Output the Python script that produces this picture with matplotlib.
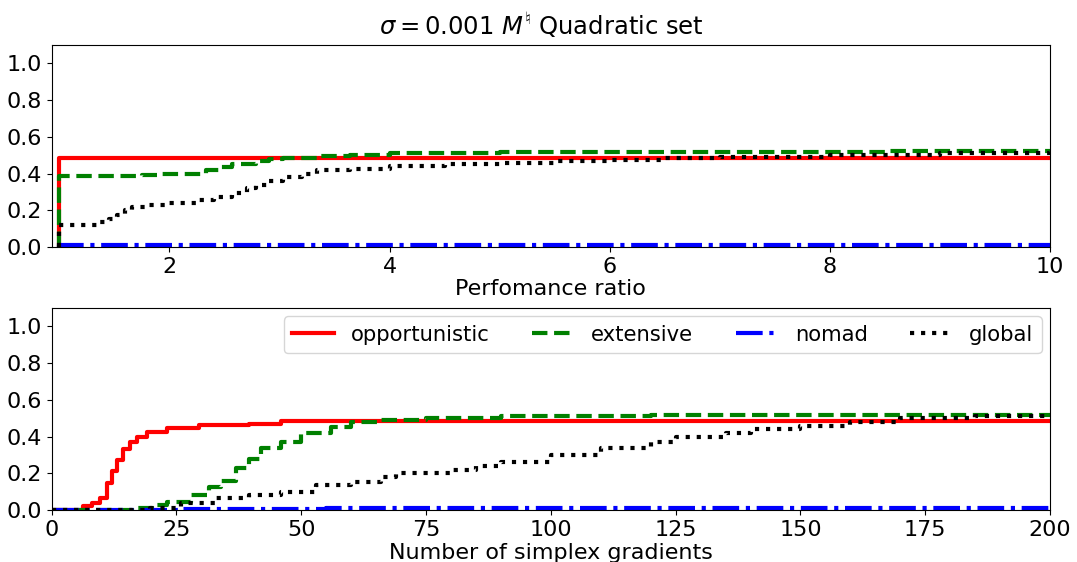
import matplotlib
matplotlib.use("Agg")
import matplotlib.pyplot as plt

# ---- Top panel: performance profile (x = performance ratio) ----
ratio_opp = [1.0, 10.0]
prof_opp = [0.485, 0.485]
ratio_ext = [1.0, 1.75, 1.9, 2.12, 2.33, 2.45, 2.57, 2.79, 2.9, 3.03, 3.34, 3.64, 4.0, 4.7, 5.0, 8.5, 10.0]
prof_ext = [0.388, 0.39, 0.395, 0.40, 0.42, 0.435, 0.45, 0.47, 0.48, 0.485, 0.497, 0.50, 0.51, 0.512, 0.515, 0.52, 0.52]
ratio_nom = [1.0, 10.0]
prof_nom = [0.012, 0.012]
ratio_glo = [1.0, 1.36, 1.45, 1.52, 1.6, 1.66, 1.8, 1.97, 2.27, 2.4, 2.57, 2.7, 2.79, 2.9, 3.03, 3.2, 3.34, 3.64, 4.0, 4.5, 5.0, 5.5, 6.0, 6.5, 7.0, 8.0, 9.0, 10.0]
prof_glo = [0.12, 0.137, 0.15, 0.175, 0.2, 0.22, 0.23, 0.24, 0.257, 0.27, 0.295, 0.32, 0.34, 0.36, 0.38, 0.40, 0.42, 0.425, 0.44, 0.45, 0.46, 0.47, 0.475, 0.485, 0.49, 0.50, 0.51, 0.515]

# ---- Bottom panel: data profile (x = number of simplex gradients) ----
grad_opp = [0, 6.2, 8, 9.6, 11, 12, 13, 14.3, 15.6, 17, 19, 23, 29.6, 39.6, 46, 200]
data_opp = [0.0, 0.02, 0.04, 0.065, 0.147, 0.21, 0.27, 0.33, 0.37, 0.40, 0.425, 0.445, 0.465, 0.47, 0.485, 0.485]
grad_ext = [0, 16, 20, 23, 28, 31.6, 34, 37, 39.6, 42, 46, 50, 56, 60, 66, 75, 90, 120, 200]
data_ext = [0.0, 0.01, 0.03, 0.045, 0.08, 0.125, 0.16, 0.23, 0.28, 0.34, 0.37, 0.42, 0.45, 0.48, 0.49, 0.50, 0.51, 0.515, 0.52]
grad_nom = [0, 26, 55, 200]
data_nom = [0.0, 0.005, 0.012, 0.012]
grad_glo = [0, 19.6, 26, 33, 39.6, 46, 53, 60, 66, 69, 80, 85, 90, 100, 110, 120, 125, 135, 140, 150, 160, 170, 185, 200]
data_glo = [0.0, 0.01, 0.04, 0.065, 0.08, 0.10, 0.135, 0.15, 0.18, 0.20, 0.22, 0.24, 0.26, 0.30, 0.34, 0.37, 0.40, 0.42, 0.44, 0.46, 0.48, 0.50, 0.51, 0.515]

labels = ["opportunistic", "extensive", "nomad", "global"]
colors = ["red", "green", "blue", "black"]
styles = ["-", "--", "-.", ":"]

plt.rcParams["font.size"] = 16

fig = plt.figure(figsize=(10.77, 5.62), dpi=100)
ax1 = fig.add_axes([0.048, 0.5605, 0.927, 0.3595])
ax2 = fig.add_axes([0.048, 0.0925, 0.927, 0.3595])

top = [(ratio_opp, prof_opp), (ratio_ext, prof_ext), (ratio_nom, prof_nom), (ratio_glo, prof_glo)]
for (x, y), c, s, l in zip(top, colors, styles, labels):
    ax1.plot([x[0]] + list(x), [0.0] + list(y), drawstyle="steps-post", color=c, ls=s, lw=3, label=l)
ax1.set_xlim(0.93, 10)
ax1.set_ylim(0, 1.1)
ax1.set_yticks([0, 0.2, 0.4, 0.6, 0.8, 1.0])
ax1.set_xticks([2, 4, 6, 8, 10])
ax1.set_xlabel("Perfomance ratio", labelpad=2)
fig.suptitle(r"$\sigma = 0.001\ M^\natural$ Quadratic set", fontsize=17.5, x=0.503, y=0.981)

bot = [(grad_opp, data_opp), (grad_ext, data_ext), (grad_nom, data_nom), (grad_glo, data_glo)]
for (x, y), c, s, l in zip(bot, colors, styles, labels):
    ax2.plot(x, y, drawstyle="steps-post", color=c, ls=s, lw=3, label=l)
ax2.set_xlim(0, 200)
ax2.set_ylim(0, 1.1)
ax2.set_yticks([0, 0.2, 0.4, 0.6, 0.8, 1.0])
ax2.set_xticks([0, 25, 50, 75, 100, 125, 150, 175, 200])
ax2.set_xlabel("Number of simplex gradients", labelpad=2)
ax2.legend(loc="upper right", ncol=4, fontsize=15.2, handlelength=2.0, borderaxespad=0.4)

fig.savefig("out.png", dpi=100)
